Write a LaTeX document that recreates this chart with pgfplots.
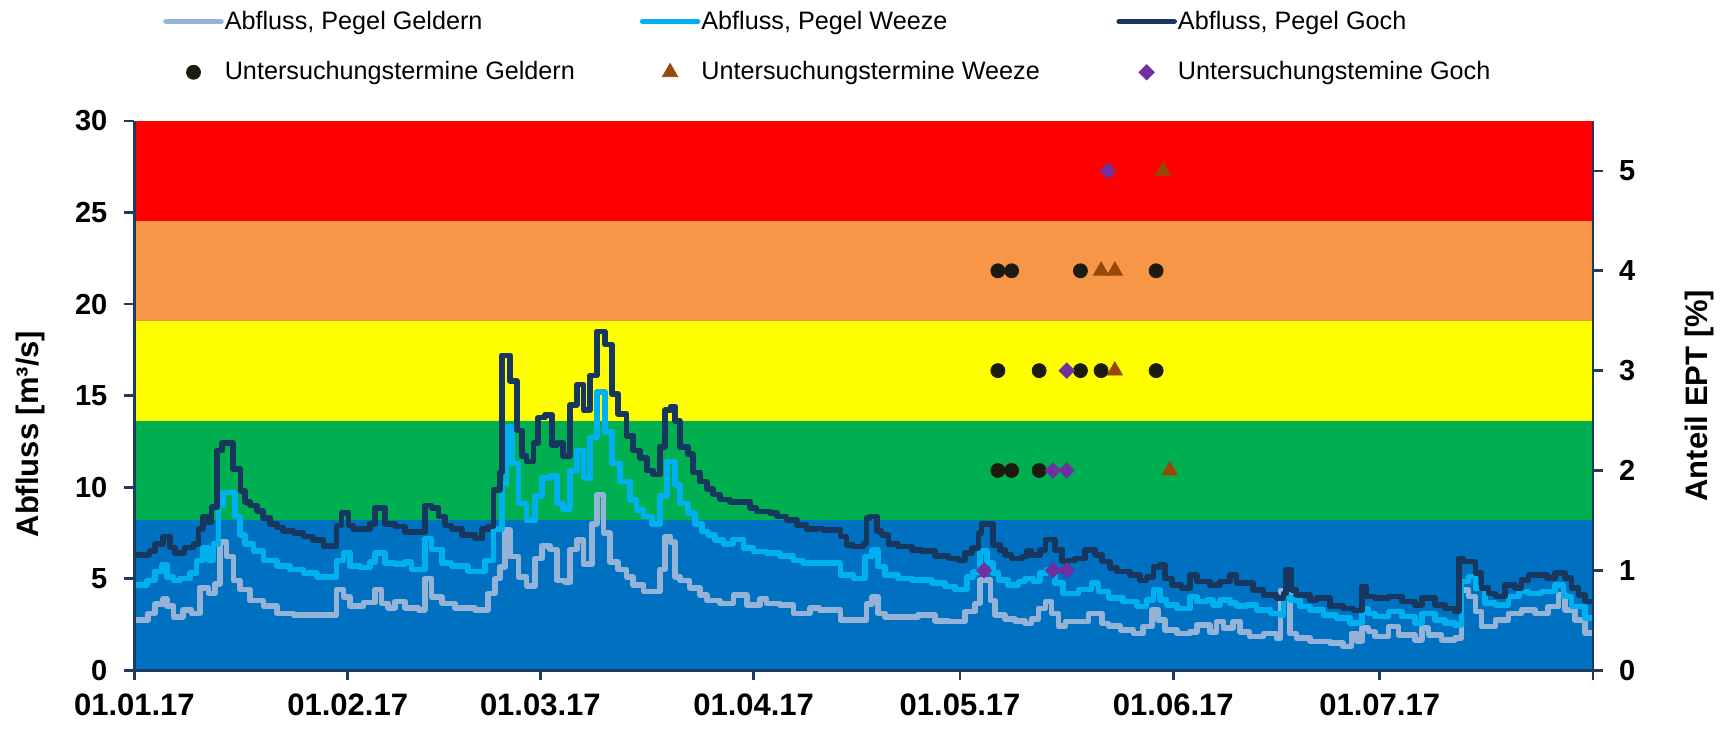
\documentclass[border=0pt]{standalone}
\usepackage{pgfplots}
\usepackage{pgfplotstable}
\usepackage{fontspec}
\setmainfont{Liberation Sans}
\pgfplotsset{compat=1.18}

\definecolor{cRed}{HTML}{FF0000}
\definecolor{cOrange}{HTML}{F79646}
\definecolor{cYellow}{HTML}{FFFF00}
\definecolor{cGreen}{HTML}{00B050}
\definecolor{cBlue}{HTML}{0070C0}
\definecolor{cGeldern}{HTML}{95B3D7}
\definecolor{cWeeze}{HTML}{00B0F0}
\definecolor{cGoch}{HTML}{17375E}
\definecolor{cAxis}{HTML}{1F3A5F}
\definecolor{cCirc}{HTML}{1D1B10}
\definecolor{cTri}{HTML}{984807}
\definecolor{cDia}{HTML}{7030A0}

\pgfplotsset{
  linelegend/.style={legend image code/.code={\draw[##1] (0pt,0pt) -- (27.5pt,0pt);}},
  marklegend/.style={legend image code/.code={\draw[mark repeat=2,mark phase=2,##1] plot coordinates {(0pt,0pt) (13.75pt,0pt) (27.5pt,0pt)};}},
  common/.style={
    at={(67.2pt,30.9pt)}, anchor=south west,
    scale only axis, width=729.3pt, height=274.6pt,
    xmin=0, xmax=212,
    axis line style={-, line width=1.4pt, cAxis},
    tick align=outside, major tick length=5pt,
    every tick/.append style={cAxis, line width=1.4pt},
    /pgf/number format/assume math mode=true,
    axis on top,
  },
  serie/.style={const plot, line width=2.8pt, line join=round, line cap=round},
}

\pgfplotstableread{
x y
0 6.3
2.2 6.5
3 6.9
4.2 7.3
5.2 6.7
5.9 6.4
7.3 6.7
8.6 6.9
9.3 7.7
10 8.4
10.7 8.1
11.2 8.9
12.0 12.0
12.7 12.4
14.3 11.0
15.4 9.8
16.1 9.2
16.8 9.0
17.8 8.7
18.7 8.3
19.7 8.0
20.7 7.8
21.6 7.6
23.1 7.5
24.6 7.3
26.0 7.1
27.5 6.8
29.4 7.9
30.1 8.6
31.1 7.9
31.8 7.7
34.2 8.0
35.0 8.85
36.4 8.0
37.9 7.85
39.3 7.55
42.2 9.0
43.2 8.85
44.2 8.4
45.15 7.9
46.1 7.7
47.6 7.4
49.5 7.2
50.5 7.7
51.4 7.85
52.2 9.85
53.1 10.8
53.4 17.2
54.6 15.8
55.6 13.1
56.3 11.7
57.0 11.4
58.0 12.4
58.7 13.8
59.7 13.95
60.7 12.3
61.4 12.4
62.3 11.7
63.3 14.5
64.3 15.6
65.3 14.2
66.2 16.1
67.2 18.5
68.4 17.8
69.4 15.1
70.3 14.0
71.55 12.8
72.5 12.0
73.5 11.6
74.5 10.9
75.4 10.7
76.4 12.2
77.1 14.2
77.9 14.4
78.6 13.6
79.3 12.2
80.5 11.8
81.2 10.8
82.2 10.3
83.2 9.9
84.1 9.6
85.1 9.33
86.6 9.2
89.5 8.85
90.4 8.66
92.4 8.6
93.4 8.4
94.8 8.2
96.3 7.94
97.7 7.7
99.2 7.75
100.1 7.67
102.6 7.3
103.5 6.84
104.5 6.75
105.95 6.93
106.4 8.3
106.9 8.4
107.9 7.6
108.6 7.4
109.6 6.88
111.0 6.75
113.0 6.57
114.4 6.5
116.4 6.24
118.3 6.1
119.8 6.0
120.7 6.4
121.7 6.66
122.7 7.48
123.1 8.0
124.8 6.84
125.8 6.57
126.5 6.3
127.5 6.1
129.0 6.2
129.7 6.5
130.4 6.3
131.6 6.57
132.4 7.15
133.8 6.57
134.8 5.93
135.7 6.0
136.7 6.1
138.2 6.57
139.6 6.3
140.6 5.93
141.8 5.57
142.8 5.39
144.7 5.2
146.2 4.9
147.1 5.1
148.1 5.65
149.1 5.74
149.8 5.0
150.8 4.66
152.2 4.48
153.4 5.2
154.4 4.84
156.3 4.66
157.8 4.84
159.2 5.2
160.2 4.75
162.6 4.38
164.1 4.1
166.0 3.93
167.0 4.2
167.4 5.48
168.2 4.38
168.9 4.1
170.9 3.84
171.8 3.93
173.8 3.5
175.7 3.38
177.2 3.25
178.4 4.57
179.1 4.02
180.3 3.93
182.3 4.02
184.2 3.75
186.1 3.57
187.1 3.93
189.0 3.57
190.5 3.38
191.9 3.2
192.5 6.11
193.2 5.93
194.9 5.3
195.8 4.48
196.8 4.2
197.8 4.02
199.2 4.66
200.7 4.48
201.6 4.93
202.6 5.2
205.3 5.02
206.5 5.3
207.9 5.02
208.9 4.48
209.9 4.1
210.8 3.75
212 3.75
}\goch

\pgfplotstableread{
x y
0 4.66
1.8 4.9
3.0 5.4
4.0 5.75
4.7 5.1
5.7 4.9
6.6 5.0
8.1 5.3
9.05 6.0
10.0 6.7
10.75 6.0
11.5 6.9
12.2 9.0
12.9 9.7
14.6 8.4
15.35 7.4
16.1 6.9
17.3 6.5
18.75 6.0
20.7 5.7
22.6 5.5
24.6 5.3
26.5 5.1
29.4 6.0
30.4 6.4
31.3 5.7
32.8 5.6
34.2 5.9
35.0 6.4
36.4 5.85
37.9 5.8
39.3 5.9
40.3 5.5
42.2 7.2
43.2 6.6
44.7 5.85
46.1 5.7
48.5 5.4
51.0 6.0
52.2 7.7
53.4 10.2
54.1 13.3
54.9 11.3
55.8 9.1
57.0 8.2
58.2 9.5
59.2 10.5
60.4 10.6
61.4 9.1
62.3 8.8
63.3 10.9
64.3 12.0
65.3 10.5
66.2 12.7
67.2 15.2
68.4 13.0
69.4 11.3
70.6 10.3
72.0 9.3
73.0 8.75
74.0 8.4
75.2 8.0
76.4 9.5
77.4 11.4
78.6 10.1
79.3 9.1
80.5 8.6
81.5 8.0
82.5 7.57
83.4 7.4
84.4 7.1
85.6 6.9
87.0 7.15
88.5 6.66
90.0 6.48
91.9 6.39
93.8 6.24
95.8 6.0
97.2 5.85
102.6 5.2
104.5 5.0
106.2 6.2
107.2 6.57
108.1 5.66
109.1 5.2
111.0 5.0
113.0 4.93
115.9 4.75
117.8 4.57
119.3 4.4
121.0 5.1
121.9 5.38
122.9 6.5
123.9 5.85
124.8 5.3
125.6 4.93
127.0 4.66
128.5 4.84
129.4 5.0
130.7 4.84
131.6 5.3
132.6 5.5
133.8 4.75
135.0 4.2
137.2 4.4
139.1 4.75
140.1 4.3
141.6 3.95
143.7 3.75
145.7 3.48
147.1 3.84
148.1 4.38
149.1 3.84
150.0 3.57
151.5 3.38
153.4 4.02
154.4 3.75
155.9 3.84
156.8 3.57
157.8 3.84
159.2 3.66
160.2 3.5
161.7 3.57
163.1 3.3
165.1 3.1
166.5 3.0
167.0 4.02
168.0 3.84
169.4 3.48
170.9 3.3
172.8 3.0
174.7 2.84
176.7 2.57
178.4 3.38
179.3 3.1
180.3 2.93
182.3 3.2
184.2 2.93
186.1 2.57
187.1 3.1
189.0 2.75
190.5 2.57
191.9 2.47
192.9 4.84
193.9 5.11
194.9 4.48
196.3 3.66
197.8 3.57
199.7 4.02
201.2 4.3
202.6 4.2
204.5 4.3
206.5 4.66
207.7 4.02
208.9 3.48
210.8 2.84
212 2.84
}\weeze

\pgfplotstableread{
x y
0 2.74
2.0 3.1
3.0 3.6
4.2 3.9
4.7 3.5
5.7 2.9
7.1 3.3
8.3 3.1
9.5 4.5
10.75 4.2
11.7 4.7
12.4 7.0
13.4 6.2
14.4 4.9
15.35 4.4
16.8 3.8
18.75 3.5
20.7 3.1
23.1 3.0
29.4 4.4
30.4 4.0
31.3 3.5
33.3 3.7
35.0 4.4
35.9 3.65
36.9 3.4
37.9 3.75
39.3 3.4
41.3 3.3
42.2 5.0
43.2 4.0
44.7 3.65
46.6 3.4
49.5 3.3
51.4 4.2
52.4 5.0
53.1 5.65
53.9 7.65
54.6 6.2
55.8 5.1
57.0 4.6
58.2 6.1
59.2 6.8
60.4 6.6
61.4 4.9
62.6 4.8
63.3 6.6
64.3 7.1
65.3 5.8
66.5 8.0
67.2 9.6
68.2 7.5
69.1 5.9
70.3 5.5
71.55 5.1
72.5 4.66
74.0 4.3
76.4 5.5
77.1 7.3
77.9 7.0
78.6 5.1
79.3 4.9
80.7 4.5
82.2 4.1
83.2 3.8
85.1 3.65
87.1 4.1
89.0 3.55
90.9 3.9
91.9 3.65
93.8 3.55
95.8 3.1
98.2 3.4
99.6 3.3
102.6 2.74
106.4 3.6
107.2 4.0
108.1 3.1
109.1 2.9
113.9 3.0
116.4 2.7
118.3 2.65
120.7 3.2
122.2 3.65
122.9 4.93
124.4 3.8
125.1 3.0
126.5 2.8
128.0 2.7
129.4 2.55
130.4 2.8
131.4 3.38
132.4 3.75
133.3 3.1
134.3 2.4
135.3 2.65
138.7 3.1
140.6 2.55
141.6 2.4
143.3 2.2
145.2 2.0
146.6 2.38
147.9 3.3
148.8 2.75
149.8 2.2
151.5 2.0
153.4 2.1
154.4 2.47
156.3 2.1
157.3 2.66
158.3 2.3
159.7 2.66
160.7 2.1
162.1 1.84
164.1 2.0
166.0 1.75
166.6 4.35
167.4 4.1
168.0 2.0
168.9 1.75
170.9 1.57
173.8 1.48
175.7 1.29
176.9 2.0
177.7 1.57
178.4 2.3
179.35 2.11
180.3 1.84
182.3 2.38
183.7 1.93
186.1 1.66
187.1 2.3
188.1 1.93
190.0 1.66
191.9 1.75
192.9 4.38
193.9 4.02
194.9 3.2
195.8 2.38
197.8 2.75
199.7 3.1
201.6 3.3
203.6 3.1
205.5 3.48
207.0 4.11
207.9 3.3
209.4 2.75
210.8 2.02
212 2.02
}\geldern

\pgfplotstableread{
x y
125.5 4
127.5 4
137.5 4
148.5 4
125.5 3
131.5 3
137.5 3
140.5 3
148.5 3
125.5 2
127.5 2
131.5 2
}\uGeldern

\pgfplotstableread{
x y
149.5 5
140.5 4
142.5 4
142.5 3
150.5 2
}\uWeeze

\pgfplotstableread{
x y
141.5 5
135.5 3
133.5 2
135.5 2
123.5 1
133.5 1
135.5 1
}\uGoch

\begin{document}
\begin{tikzpicture}
\path[use as bounding box] (0,0) rectangle (864.5pt,366pt);
\begin{axis}[common,
  ymin=0, ymax=30,
  axis x line*=bottom, axis y line*=left,
  xtick={0,31,59,90,120,151,181,212},
  xticklabels={01.01.17,01.02.17,01.03.17,01.04.17,01.05.17,01.06.17,01.07.17,{}},
  ytick={0,5,...,30},
  xticklabel style={font=\bfseries\fontsize{15.5}{18}\selectfont, yshift=-3.5pt},
  yticklabel style={font=\bfseries\fontsize{14.5}{17}\selectfont, xshift=-5pt},
  ylabel={Abfluss [m³/s]},
  ylabel style={font=\bfseries\fontsize{15.5}{18}\selectfont, at={(axis description cs:-0.0709,0.43)}, anchor=center},
]
\addplot[draw=none, fill=cBlue] coordinates {(0,0) (212,0) (212,8.1818) (0,8.1818)} -- cycle;
\addplot[draw=none, fill=cGreen] coordinates {(0,8.1818) (212,8.1818) (212,13.6364) (0,13.6364)} -- cycle;
\addplot[draw=none, fill=cYellow] coordinates {(0,13.6364) (212,13.6364) (212,19.0909) (0,19.0909)} -- cycle;
\addplot[draw=none, fill=cOrange] coordinates {(0,19.0909) (212,19.0909) (212,24.5455) (0,24.5455)} -- cycle;
\addplot[draw=none, fill=cRed] coordinates {(0,24.5455) (212,24.5455) (212,30) (0,30)} -- cycle;
\addplot[serie, cGeldern] table {\geldern};
\addplot[serie, cWeeze] table {\weeze};
\addplot[serie, cGoch] table {\goch};
\end{axis}

\begin{axis}[common,
  ymin=0, ymax=5.5,
  axis x line=none, axis y line*=right,
  ytick={0,1,...,5},
  yticklabel style={font=\bfseries\fontsize{14.5}{17}\selectfont, xshift=4.5pt},
  ylabel={Anteil EPT [\%]},
  ylabel style={font=\bfseries\fontsize{15.5}{18}\selectfont, at={(axis description cs:1.0727,0.5)}, anchor=center},
  legend columns=3,
  legend style={at={(axis description cs:0.01947,1.2085)}, anchor=north west,
    draw=none, fill=none, inner xsep=0pt, inner ysep=0pt,
    column sep=0pt, row sep=10.75pt,
    font=\fontsize{12.6}{15}\selectfont, cells={anchor=center},
    nodes={inner ysep=2pt, inner xsep=0.5pt}},
]
\addlegendimage{cGeldern, line width=2.8pt, line cap=round, linelegend}
\addlegendentry{\makebox[207pt][l]{Abfluss, Pegel Geldern}}
\addlegendimage{cWeeze, line width=2.8pt, line cap=round, linelegend}
\addlegendentry{\makebox[207pt][l]{Abfluss, Pegel Weeze}}
\addlegendimage{cGoch, line width=2.8pt, line cap=round, linelegend}
\addlegendentry{\makebox[207pt][l]{Abfluss, Pegel Goch}}
\addplot[only marks, mark=*, mark size=3.5pt, mark options={fill=cCirc, draw=cCirc}, marklegend]
  table {\uGeldern};
\addlegendentry{\makebox[207pt][l]{Untersuchungstermine Geldern}}
\addplot[only marks, mark=triangle*, mark size=4.4pt, mark options={fill=cTri, draw=cTri}, marklegend]
  table {\uWeeze};
\addlegendentry{\makebox[207pt][l]{Untersuchungstermine Weeze}}
\addplot[only marks, mark=square*, mark size=2.7pt, mark options={fill=cDia, draw=cDia, rotate=45}, marklegend]
  table {\uGoch};
\addlegendentry{\makebox[207pt][l]{Untersuchungstemine Goch}}
\end{axis}
\end{tikzpicture}
\end{document}
